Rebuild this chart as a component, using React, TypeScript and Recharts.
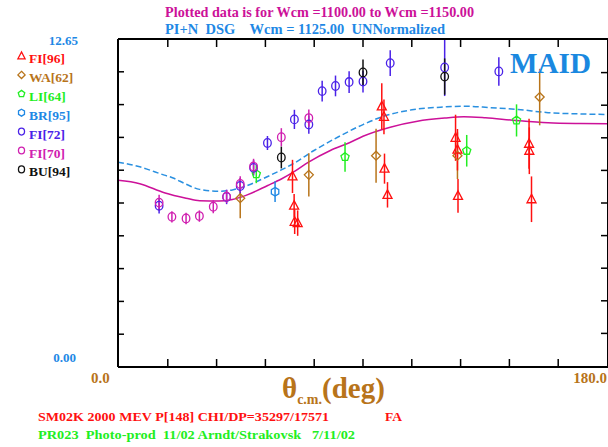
import React from 'react';
import { ComposedChart, XAxis, YAxis, Line, Scatter, ErrorBar } from 'recharts';

// angles in deg, dsg values, +/- errors
const fi96Angle = [64.1, 64.7, 64.9, 66.0, 96.9, 97.7, 97.9, 99.0, 124.0, 124.7, 124.9, 151.0, 151.1, 151.9];
const fi96Value = [7.35, 6.22, 5.6, 5.55, 10.05, 9.65, 7.65, 6.64, 8.84, 8.38, 6.6, 8.61, 8.34, 6.47];
const fi96Error = [0.64, 0.45, 0.47, 0.49, 0.89, 0.67, 0.58, 0.49, 0.89, 0.8, 0.65, 0.96, 0.9, 0.88];

const wa62Angle = [44.9, 70.1, 94.8, 124.7, 154.9];
const wa62Value = [6.51, 7.41, 8.15, 8.15, 10.41];
const wa62Error = [0.77, 0.83, 1.04, 0.9, 1.09];

const li64Angle = [50.8, 83.4, 128.1, 146.4];
const li64Value = [7.44, 8.1, 8.34, 9.51];
const li64Error = [0.35, 0.57, 0.61, 0.62];

const br95Angle = [57.7];
const br95Value = [6.76];
const br95Error = [0.4];

const fi72Angle = [15.1, 39.9, 44.9, 49.8, 54.9, 64.8, 70.1, 75.0, 79.9, 84.9, 90.0, 100.0, 120.0, 139.9];
const fi72Value = [6.22, 6.56, 6.98, 7.68, 8.64, 9.55, 9.35, 10.64, 10.84, 10.99, 11.01, 11.72, 11.55, 11.4];
const fi72Error = [0.3, 0.28, 0.3, 0.3, 0.27, 0.37, 0.35, 0.4, 0.4, 0.42, 0.42, 0.5, 1.1, 0.55];

const fi70Angle = [15.1, 19.8, 25.0, 29.9, 35.0, 39.9, 44.9, 49.8, 60.0, 70.1];
const fi70Value = [6.34, 5.79, 5.73, 5.82, 6.18, 6.57, 7.06, 7.73, 8.86, 9.6];
const fi70Error = [0.3, 0.22, 0.22, 0.22, 0.25, 0.25, 0.3, 0.3, 0.35, 0.33];

const bu94Angle = [60.0, 90.0, 120.0];
const bu94Value = [8.08, 11.36, 11.2];
const bu94Error = [0.42, 0.5, 0.7];

// MAID curves
const maidDashAngle = [0, 8, 17, 20, 25, 30, 37, 42, 48, 54, 60, 65, 72, 81, 90, 97, 108, 120, 127, 137, 147, 158, 170, 180];
const maidDashValue = [7.9, 7.72, 7.4, 7.3, 7.05, 6.85, 6.78, 6.83, 7.02, 7.3, 7.6, 7.88, 8.35, 8.88, 9.35, 9.65, 9.92, 10.03, 10.06, 10.0, 9.93, 9.81, 9.76, 9.74];
const solAngle = [0, 8, 17, 25, 30, 37, 42, 47, 55, 60, 65, 70, 78, 85, 90, 100, 110, 120, 127, 135, 145, 158, 170, 180];
const solValue = [7.2, 7.07, 6.72, 6.51, 6.41, 6.4, 6.46, 6.62, 7.0, 7.25, 7.55, 7.9, 8.35, 8.65, 8.9, 9.25, 9.48, 9.6, 9.65, 9.61, 9.52, 9.42, 9.39, 9.38];

const xTicks = [0, 18, 36, 54, 72, 90, 108, 126, 144, 162, 180];
const yTicks = [0, 1.265, 2.53, 3.795, 5.06, 6.325, 7.59, 8.855, 10.12, 11.385, 12.65];

const legendNames = ['FI[96]', 'WA[62]', 'LI[64]', 'BR[95]', 'FI[72]', 'FI[70]', 'BU[94]'];

const SERIF = '"Liberation Serif", "DejaVu Serif", serif';
const RED = '#ff1010';
const BROWN = '#b8741a';
const GREEN = '#22ee22';
const LBLUE = '#1e88e5';
const VIOLET = '#4a22e8';
const MAGENTA = '#d020b0';
const BLACK = '#111111';

const X_MAX = 180;
const Y_MAX = 12.65;
// plot box (matches chart margins + 1px axes)
const PL = 119, PR = 607, PT = 40, PB = 366;
const tx = (v: number) => PL + (v / X_MAX) * (PR - PL);
const ty = (v: number) => PB - (v / Y_MAX) * (PB - PT);

const pts = (a: number[], v: number[], e?: number[]) =>
  a.map((x, i) => ({ x, y: v[i], e: e ? e[i] : 0 }));

const dashData = pts(maidDashAngle, maidDashValue);
const solidData = pts(solAngle, solValue);

type Kind = 'tri' | 'dia' | 'pent' | 'hex' | 'circ';

const poly = (cx: number, cy: number, r: number, n: number) =>
  Array.from({ length: n }, (_, i) => {
    const a = (-90 + (360 / n) * i) * (Math.PI / 180);
    return `${cx + r * Math.cos(a)},${cy + r * Math.sin(a)}`;
  }).join(' ');

function Mark({ kind, cx, cy, color, s = 1 }: { kind: Kind; cx: number; cy: number; color: string; s?: number }) {
  const sw = 1.3;
  if (kind === 'tri')
    return <polygon points={`${cx},${cy - 5 * s} ${cx - 4.5 * s},${cy + 3.5 * s} ${cx + 4.5 * s},${cy + 3.5 * s}`} fill="none" stroke={color} strokeWidth={sw} />;
  if (kind === 'dia')
    return <polygon points={`${cx},${cy - 4.5 * s} ${cx + 4.5 * s},${cy} ${cx},${cy + 4.5 * s} ${cx - 4.5 * s},${cy}`} fill="none" stroke={color} strokeWidth={sw} />;
  if (kind === 'pent') return <polygon points={poly(cx, cy, 4.3 * s, 5)} fill="none" stroke={color} strokeWidth={sw} />;
  if (kind === 'hex') return <polygon points={poly(cx, cy, 4.3 * s, 6)} fill="none" stroke={color} strokeWidth={sw} />;
  return <ellipse cx={cx} cy={cy} rx={3.8 * s} ry={4.3 * s} fill="none" stroke={color} strokeWidth={sw} />;
}

const shape = (kind: Kind, color: string) => (p: any) =>
  p.cx == null ? <g /> : <Mark kind={kind} cx={p.cx} cy={p.cy} color={color} />;

const series: { name: string; kind: Kind; color: string; data: { x: number; y: number; e: number }[] }[] = [
  { name: legendNames[1], kind: 'dia', color: BROWN, data: pts(wa62Angle, wa62Value, wa62Error) },
  { name: legendNames[0], kind: 'tri', color: RED, data: pts(fi96Angle, fi96Value, fi96Error) },
  { name: legendNames[2], kind: 'pent', color: GREEN, data: pts(li64Angle, li64Value, li64Error) },
  { name: legendNames[3], kind: 'hex', color: LBLUE, data: pts(br95Angle, br95Value, br95Error) },
  { name: legendNames[4], kind: 'circ', color: VIOLET, data: pts(fi72Angle, fi72Value, fi72Error) },
  { name: legendNames[5], kind: 'circ', color: MAGENTA, data: pts(fi70Angle, fi70Value, fi70Error) },
  { name: legendNames[6], kind: 'circ', color: BLACK, data: pts(bu94Angle, bu94Value, bu94Error) },
];

const legendKinds: Kind[] = ['tri', 'dia', 'pent', 'hex', 'circ', 'circ', 'circ'];
const legendColors = [RED, BROWN, GREEN, LBLUE, VIOLET, MAGENTA, BLACK];

const axisLine = { stroke: '#000', strokeWidth: 2 };
const tickLine = { stroke: '#000', strokeWidth: 1.5 };
const noLabel = () => <g />;

export default function App() {
  return (
    <div style={{ position: 'absolute', left: 0, top: 0, width: 608, height: 447, background: '#fff' }}>
      <ComposedChart width={608} height={447} margin={{ top: 39, right: 0, bottom: 80, left: 118 }}>
        <XAxis type="number" dataKey="x" domain={[0, X_MAX]} ticks={xTicks} interval={0} allowDataOverflow height={1} mirror
          tick={noLabel} tickLine={false} axisLine={axisLine} />
        <XAxis xAxisId="top" orientation="top" type="number" domain={[0, X_MAX]} ticks={xTicks} interval={0} allowDataOverflow height={1} mirror
          tick={noLabel} tickLine={false} axisLine={axisLine} />
        <YAxis type="number" dataKey="y" domain={[0, Y_MAX]} ticks={yTicks} interval={0} allowDataOverflow width={1} mirror
          tick={noLabel} tickSize={6} axisLine={axisLine} tickLine={tickLine} />
        <YAxis yAxisId="right" orientation="right" type="number" domain={[0, Y_MAX]} ticks={yTicks} interval={0} allowDataOverflow width={1} mirror
          tick={noLabel} tickLine={false} axisLine={axisLine} />
        <Line data={dashData} dataKey="y" type="monotone" stroke="#2a90e0" strokeWidth={1.5}
          strokeDasharray="6 3" dot={false} isAnimationActive={false} />
        <Line data={solidData} dataKey="y" type="monotone" stroke="#cc1199" strokeWidth={1.5}
          dot={false} isAnimationActive={false} />
        {series.map((s) => (
          <Scatter key={s.name + s.color} name={s.name} data={s.data} dataKey="y" shape={shape(s.kind, s.color)} isAnimationActive={false}>
            <ErrorBar dataKey="e" direction="y" width={0} stroke={s.color} strokeWidth={1.5} />
          </Scatter>
        ))}
      </ComposedChart>

      <svg width={608} height={447} style={{ position: 'absolute', left: 0, top: 0, pointerEvents: 'none' }}
        fontFamily={SERIF} fontWeight="bold">
        {/* inner frame ticks on bottom, top and right edges */}
        <g stroke="#000" strokeWidth={1.5}>
          {xTicks.slice(1, -1).map((t) => (
            <g key={'x' + t}>
              <line x1={tx(t)} y1={PB} x2={tx(t)} y2={PB - 7} />
              <line x1={tx(t)} y1={PT} x2={tx(t)} y2={PT + 7} />
            </g>
          ))}
          {yTicks.slice(1, -1).map((t) => (
            <line key={'y' + t} x1={PR} y1={ty(t)} x2={PR - 6} y2={ty(t)} />
          ))}
        </g>
        <text x={165} y={17} fontSize={14} fill="#cc1199" textLength={309} lengthAdjust="spacingAndGlyphs">
          Plotted data is for Wcm =1100.00 to Wcm =1150.00
        </text>
        <text x={165} y={34} fontSize={14} fill="#1e88e5" textLength={280} lengthAdjust="spacingAndGlyphs" style={{ whiteSpace: 'pre' }}>
          {'PI+N  DSG    Wcm = 1125.00  UNNormalized'}
        </text>
        <text x={78} y={45} fontSize={13} fill="#1e88e5" textAnchor="end">12.65</text>
        <text x={76} y={362} fontSize={13} fill="#1e88e5" textAnchor="end">0.00</text>
        <text x={91} y={383} fontSize={15} fill={BROWN}>0.0</text>
        <text x={607} y={383} fontSize={15} fill={BROWN} textAnchor="end">180.0</text>
        <text x={282} y={398} fill={BROWN} fontSize={29}>
          θ<tspan fontSize={14} dy={6}>c.m.</tspan><tspan dy={-6}>(deg)</tspan>
        </text>
        <text x={510} y={73} fontSize={30} fill="#1a88e0" textLength={81} lengthAdjust="spacingAndGlyphs">MAID</text>
        {legendNames.map((n, i) => (
          <g key={n + i}>
            <Mark kind={legendKinds[i]} cx={21.5} cy={56 + i * 18.9} color={legendColors[i]} s={0.8} />
            <text x={29} y={63 + i * 18.9} fontSize={13.5} fill={legendColors[i]}>{n}</text>
          </g>
        ))}
        <text x={38} y={421} fontSize={13.5} fill={RED} textLength={291} lengthAdjust="spacingAndGlyphs">
          SM02K 2000 MEV P[148] CHI/DP=35297/17571
        </text>
        <text x={385} y={421} fontSize={13.5} fill={RED}>FA</text>
        <text x={38} y={439} fontSize={13.5} fill={GREEN} textLength={317} lengthAdjust="spacingAndGlyphs" style={{ whiteSpace: 'pre' }}>
          {'PR023  Photo-prod  11/02 Arndt/Strakovsk   7/11/02'}
        </text>
      </svg>
    </div>
  );
}
